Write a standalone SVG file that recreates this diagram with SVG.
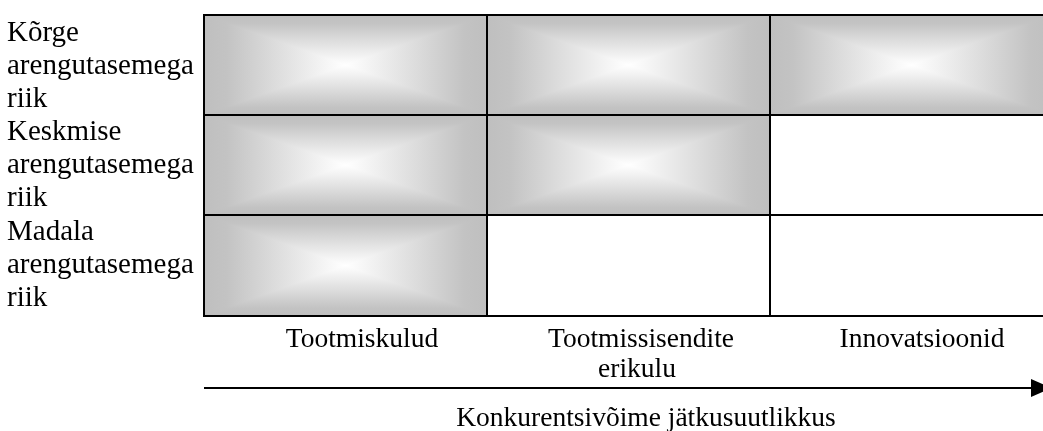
<svg xmlns="http://www.w3.org/2000/svg" width="1043" height="431" viewBox="0 0 1043 431">
  <style>
    text { font-family: "Liberation Serif", "Times New Roman", serif; font-size: 27.5px; fill: #000; }
    .row { font-size: 29px; }
    .mid { text-anchor: middle; }
    .frame { fill: none; stroke: #000; stroke-width: 2; }
    .blank { fill: #fff; stroke: #000; stroke-width: 2; }
    .vband { mix-blend-mode: darken; }
  </style>
  <defs>
    <!-- grey edges fading to white in the middle; horizontal and vertical bands are combined with darken to give a rectangular falloff -->
    <linearGradient id="hShade" x1="0" y1="0" x2="1" y2="0">
      <stop offset="0" stop-color="#bfbfbf"/>
      <stop offset="0.08" stop-color="#c3c3c3"/>
      <stop offset="0.25" stop-color="#dcdcdc"/>
      <stop offset="0.5" stop-color="#ffffff"/>
      <stop offset="0.75" stop-color="#dcdcdc"/>
      <stop offset="0.92" stop-color="#c3c3c3"/>
      <stop offset="1" stop-color="#bfbfbf"/>
    </linearGradient>
    <linearGradient id="vShade" x1="0" y1="0" x2="0" y2="1">
      <stop offset="0" stop-color="#bfbfbf"/>
      <stop offset="0.08" stop-color="#c3c3c3"/>
      <stop offset="0.25" stop-color="#dcdcdc"/>
      <stop offset="0.5" stop-color="#ffffff"/>
      <stop offset="0.75" stop-color="#dcdcdc"/>
      <stop offset="0.92" stop-color="#c3c3c3"/>
      <stop offset="1" stop-color="#bfbfbf"/>
    </linearGradient>
  </defs>

  <!-- row labels -->
  <g id="row-labels">
    <text class="row" x="7" y="41">Kõrge</text>
    <text class="row" x="7" y="74">arengutasemega</text>
    <text class="row" x="7" y="107">riik</text>
    <text class="row" x="7" y="140">Keskmise</text>
    <text class="row" x="7" y="173">arengutasemega</text>
    <text class="row" x="7" y="206">riik</text>
    <text class="row" x="7" y="240">Madala</text>
    <text class="row" x="7" y="273">arengutasemega</text>
    <text class="row" x="7" y="306">riik</text>
  </g>

  <!-- shaded cells -->
  <g id="cell-r1c1">
    <rect x="204" y="15" width="283" height="100" fill="url(#hShade)"/>
    <rect class="vband" x="204" y="15" width="283" height="100" fill="url(#vShade)"/>
    <rect class="frame" x="204" y="15" width="283" height="100"/>
  </g>
  <g id="cell-r1c2">
    <rect x="487" y="15" width="283" height="100" fill="url(#hShade)"/>
    <rect class="vband" x="487" y="15" width="283" height="100" fill="url(#vShade)"/>
    <rect class="frame" x="487" y="15" width="283" height="100"/>
  </g>
  <g id="cell-r1c3">
    <rect x="770" y="15" width="283" height="100" fill="url(#hShade)"/>
    <rect class="vband" x="770" y="15" width="283" height="100" fill="url(#vShade)"/>
    <rect class="frame" x="770" y="15" width="283" height="100"/>
  </g>
  <g id="cell-r2c1">
    <rect x="204" y="115" width="283" height="100" fill="url(#hShade)"/>
    <rect class="vband" x="204" y="115" width="283" height="100" fill="url(#vShade)"/>
    <rect class="frame" x="204" y="115" width="283" height="100"/>
  </g>
  <g id="cell-r2c2">
    <rect x="487" y="115" width="283" height="100" fill="url(#hShade)"/>
    <rect class="vband" x="487" y="115" width="283" height="100" fill="url(#vShade)"/>
    <rect class="frame" x="487" y="115" width="283" height="100"/>
  </g>
  <g id="cell-r2c3">
    <rect class="blank" x="770" y="115" width="283" height="100"/>
  </g>
  <g id="cell-r3c1">
    <rect x="204" y="215" width="283" height="101" fill="url(#hShade)"/>
    <rect class="vband" x="204" y="215" width="283" height="101" fill="url(#vShade)"/>
    <rect class="frame" x="204" y="215" width="283" height="101"/>
  </g>
  <g id="cell-r3c2">
    <rect class="blank" x="487" y="215" width="283" height="101"/>
  </g>
  <g id="cell-r3c3">
    <rect class="blank" x="770" y="215" width="283" height="101"/>
  </g>

  <!-- column labels -->
  <g id="col-labels">
    <text class="mid" x="362" y="347">Tootmiskulud</text>
    <text class="mid" x="641" y="347">Tootmissisendite</text>
    <text class="mid" x="637" y="377">erikulu</text>
    <text class="mid" x="922" y="347">Innovatsioonid</text>
  </g>

  <!-- axis arrow -->
  <g id="connectors">
    <line x1="204" y1="388" x2="1033" y2="388" stroke="#000" stroke-width="2"/>
    <polygon points="1031,379 1052,388 1031,397" fill="#000"/>
  </g>

  <g id="axis-label">
    <text class="mid" x="646" y="426">Konkurentsivõime jätkusuutlikkus</text>
  </g>
</svg>
